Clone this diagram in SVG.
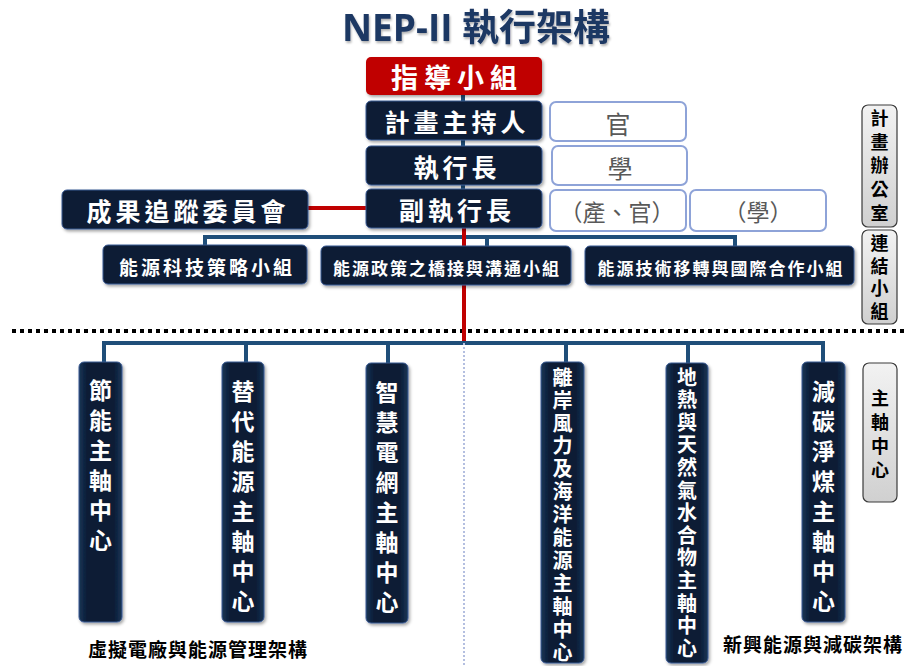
<svg xmlns="http://www.w3.org/2000/svg" width="905" height="666" viewBox="0 0 905 666">
<defs>
<linearGradient id="gg" x1="0" y1="0" x2="0" y2="1"><stop offset="0" stop-color="#f2f2f2"/><stop offset="1" stop-color="#d0d0d0"/></linearGradient>
<linearGradient id="vg" x1="0" y1="0" x2="1" y2="0"><stop offset="0" stop-color="#1a3556"/><stop offset="0.2" stop-color="#071b34"/><stop offset="0.8" stop-color="#071b34"/><stop offset="1" stop-color="#1a3556"/></linearGradient>
<filter id="sh" x="-10%" y="-10%" width="130%" height="130%"><feDropShadow dx="1.5" dy="2" stdDeviation="1.5" flood-color="#000" flood-opacity="0.35"/></filter>
<filter id="tsh" x="-5%" y="-20%" width="110%" height="150%"><feDropShadow dx="1" dy="2" stdDeviation="1" flood-color="#000" flood-opacity="0.3"/></filter>
</defs>
<style>
.dk{fill:#071b34;stroke:#3b5a94;stroke-width:1;filter:url(#sh)}
.vb{fill:url(#vg);stroke:#3b5a94;stroke-width:1;filter:url(#sh)}
.wt{fill:#fff;font-family:"Noto Sans CJK TC","Noto Sans CJK SC",sans-serif;font-weight:bold;text-anchor:middle;dominant-baseline:central}
.vt{fill:#fff;font-family:"Noto Sans CJK TC","Noto Sans CJK SC",sans-serif;font-weight:bold;text-anchor:middle;writing-mode:vertical-rl}
.lb{fill:#fff;stroke:#8ea3d8;stroke-width:2}
.gt{fill:#595959;font-family:"Noto Sans CJK TC","Noto Sans CJK SC",sans-serif;text-anchor:middle;dominant-baseline:central}
.gr{fill:url(#gg);stroke:#3a3a3a;stroke-width:1.2}
.bt{fill:#000;font-family:"Noto Sans CJK TC","Noto Sans CJK SC",sans-serif;font-weight:bold;text-anchor:middle;dominant-baseline:central}
.bv{fill:#000;font-family:"Noto Sans CJK TC","Noto Sans CJK SC",sans-serif;font-weight:bold;text-anchor:middle;writing-mode:vertical-rl;font-size:18px}
.blue{stroke:#1f4e79;stroke-width:4;fill:none}
.red{stroke:#c00000;stroke-width:4;fill:none}
</style>
<rect width="905" height="666" fill="#fff"/>

<g id="title"><text x="476" y="26" font-family="'Open Sans','Noto Sans CJK TC',sans-serif" font-weight="bold" font-size="37" fill="#1f3864" text-anchor="middle" dominant-baseline="central" filter="url(#tsh)">NEP-II 執行架構</text></g>

<g id="connectors">
<line class="blue" x1="463" y1="95" x2="463" y2="190"/>
<path class="blue" d="M205,246 V237 H735 V247 M487,237 V247"/>
<path class="blue" d="M104,363 V343 H823 V363 M246,343 V363 M388,343 V363 M566,343 V363 M688,343 V363"/>
<line x1="464" y1="343" x2="464" y2="666" stroke="#b4bfe0" stroke-width="2" stroke-dasharray="2 2"/>
<line x1="12" y1="331" x2="905" y2="331" stroke="#000" stroke-width="4" stroke-dasharray="4 4"/>
<line class="red" x1="308" y1="208" x2="366" y2="208"/>
<line class="red" x1="464" y1="228" x2="464" y2="341"/>
</g>

<g id="lead"><rect x="366" y="57" width="176" height="38" rx="5" fill="#c00000" filter="url(#sh)"/><text class="wt" x="457" y="76" font-size="27" letter-spacing="6">指導小組</text></g>

<g id="pi"><rect class="dk" x="366" y="101" width="176" height="39" rx="5"/><text class="wt" x="457" y="121" font-size="25" letter-spacing="4">計畫主持人</text></g>
<g id="pi_tag"><rect class="lb" x="550" y="102" width="136" height="39" rx="6"/><text class="gt" x="618" y="123" font-size="25">官</text></g>

<g id="ceo"><rect class="dk" x="366" y="146" width="176" height="39" rx="5"/><text class="wt" x="457" y="166" font-size="25" letter-spacing="4">執行長</text></g>
<g id="ceo_tag"><rect class="lb" x="552" y="146" width="135" height="39" rx="6"/><text class="gt" x="620" y="167" font-size="25">學</text></g>

<g id="vice"><rect class="dk" x="366" y="189" width="176" height="39" rx="5"/><text class="wt" x="457" y="209" font-size="25" letter-spacing="4">副執行長</text></g>
<g id="vice_tag1"><rect class="lb" x="550" y="190" width="136" height="41" rx="6"/><text class="gt" x="617" y="211" font-size="23">（產、官）</text></g>
<g id="vice_tag2"><rect class="lb" x="690" y="190" width="136" height="41" rx="6"/><text class="gt" x="758" y="211" font-size="23">（學）</text></g>

<g id="committee"><rect class="dk" x="62" y="190" width="246" height="39" rx="5"/><text class="wt" x="188" y="210" font-size="25" letter-spacing="4">成果追蹤委員會</text></g>

<g id="g1"><rect class="dk" x="103" y="245" width="204" height="39" rx="5"/><text class="wt" x="207" y="266" font-size="19" letter-spacing="3">能源科技策略小組</text></g>
<g id="g2"><rect class="dk" x="321" y="246" width="250" height="39" rx="5"/><text class="wt" x="447" y="267" font-size="17" letter-spacing="2">能源政策之橋接與溝通小組</text></g>
<g id="g3"><rect class="dk" x="585" y="246" width="269" height="39" rx="5"/><text class="wt" x="721" y="267" font-size="17" letter-spacing="2">能源技術移轉與國際合作小組</text></g>

<g id="office"><rect class="gr" x="862" y="105" width="35" height="122" rx="6"/><text class="bv" x="879.5" y="168.5" letter-spacing="5.75">計畫辦公室</text></g>
<g id="link"><rect class="gr" x="862" y="230" width="35" height="94" rx="6"/><text class="bv" x="879.5" y="279.5" letter-spacing="4.7">連結小組</text></g>
<g id="axis"><rect class="gr" x="863" y="363" width="34" height="139" rx="6"/><text class="bv" x="880" y="437" letter-spacing="6">主軸中心</text></g>

<g id="c1"><rect class="vb" x="79" y="362" width="43" height="260" rx="5"/><text class="vt" x="100.5" y="468.5" font-size="23" letter-spacing="7">節能主軸中心</text></g>
<g id="c2"><rect class="vb" x="222" y="362" width="42" height="260" rx="5"/><text class="vt" x="243" y="500" font-size="23" letter-spacing="7">替代能源主軸中心</text></g>
<g id="c3"><rect class="vb" x="366" y="363" width="42" height="260" rx="5"/><text class="vt" x="387" y="501" font-size="23" letter-spacing="7">智慧電網主軸中心</text></g>
<g id="c4"><rect class="vb" x="541" y="362" width="43" height="301" rx="5"/><text class="vt" x="562.5" y="516" font-size="20" letter-spacing="2.9">離岸風力及海洋能源主軸中心</text></g>
<g id="c5"><rect class="vb" x="666" y="363" width="42" height="300" rx="5"/><text class="vt" x="687" y="514" font-size="20" letter-spacing="2.6">地熱與天然氣水合物主軸中心</text></g>
<g id="c6"><rect class="vb" x="802" y="362" width="43" height="260" rx="5"/><text class="vt" x="823.5" y="500" font-size="23" letter-spacing="7">減碳淨煤主軸中心</text></g>

<g id="cap1"><text class="bt" x="198" y="648" font-size="19" letter-spacing="1">虛擬電廠與能源管理架構</text></g>
<g id="cap2"><text class="bt" x="813" y="643" font-size="19" letter-spacing="1">新興能源與減碳架構</text></g>
</svg>
